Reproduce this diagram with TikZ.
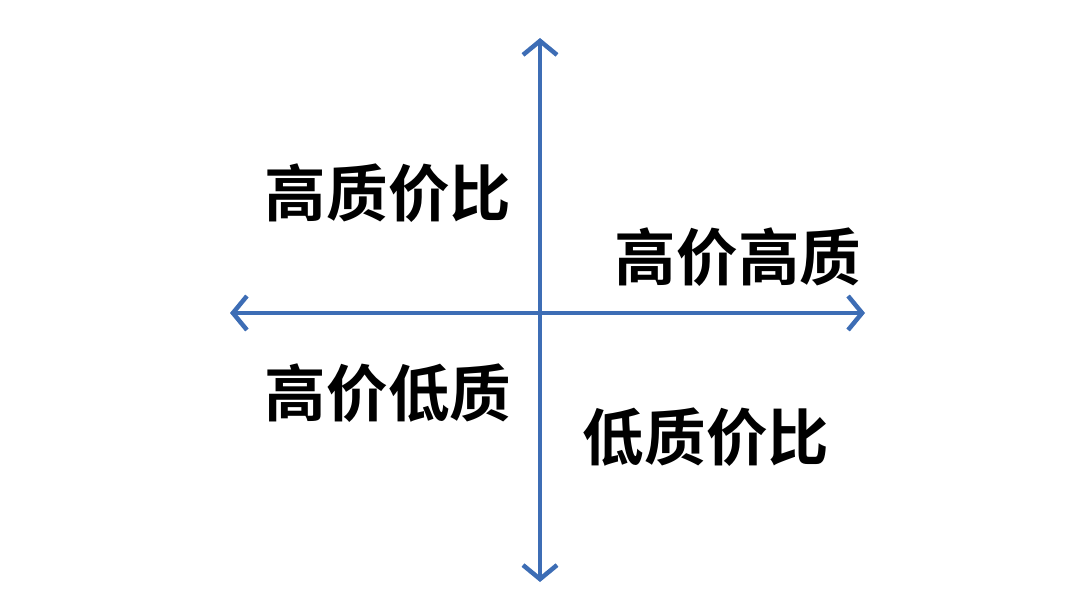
\documentclass[tikz,border=0pt]{standalone}
\usepackage{fontspec}
\newfontfamily\cjk{Noto Sans CJK SC Bold}
\usetikzlibrary{arrows.meta}
\definecolor{axisblue}{HTML}{3D6DB5}
\tikzset{axis/.style={draw=axisblue,line width=0.045cm,{Straight Barb[length=0.14cm,width=0.34cm,line width=0.045cm]}-{Straight Barb[length=0.14cm,width=0.34cm,line width=0.045cm]}},
lbl/.style={font=\cjk\fontsize{17.5pt}{20pt}\selectfont,text=black,inner sep=0pt}}
\begin{document}
\begin{tikzpicture}[x=0.01cm,y=-0.01cm]
\useasboundingbox (0,0) rectangle (1080,607);
\coordinate (t) at (540,38);
\coordinate (b) at (540,582);
\coordinate (l) at (230,313);
\coordinate (r) at (865,313);
\draw[axis] (t) -- (b);
\draw[axis] (l) -- (r);
\node[lbl] (q1) at (388,193) {高质价比};
\node[lbl] (q2) at (738,257) {高价高质};
\node[lbl] (q3) at (388,393) {高价低质};
\node[lbl] (q4) at (706,437) {低质价比};
\end{tikzpicture}
\end{document}
